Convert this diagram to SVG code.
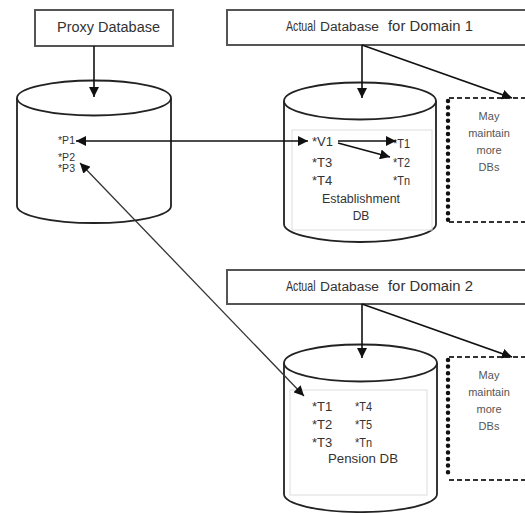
<svg xmlns="http://www.w3.org/2000/svg" width="525" height="513" viewBox="0 0 525 513">
<defs>
<style>
.box{fill:#fff;stroke:#555;stroke-width:2}
.cyl{fill:#fff;stroke:#222;stroke-width:1.8}
.inner{fill:none;stroke:#ddd;stroke-width:1}
.ln{fill:none;stroke:#111;stroke-width:1.6}
.thin{fill:none;stroke:#333;stroke-width:1.3}
.dash{fill:none;stroke:#333;stroke-width:1.8;stroke-dasharray:5 3}
.dots{fill:none;stroke:#111;stroke-width:4.5;stroke-linecap:round;stroke-dasharray:0 6.6}
text{font-family:"Liberation Sans",Arial,sans-serif;fill:#333}
.lbl{font-size:14px}
.db{font-size:12px}
.tb{font-size:13px}
.sm{font-size:11px}
.may{font-size:11px;fill:#555;text-anchor:middle}
</style>
<marker id="ah" viewBox="0 0 10 10" refX="10" refY="5" markerWidth="10" markerHeight="10" markerUnits="userSpaceOnUse" orient="auto-start-reverse">
<path d="M0,0 L10,5 L0,10 z" fill="#111"/>
</marker>
</defs>

<g id="proxy-box">
<rect class="box" x="35" y="10" width="138" height="36"/>
<text class="lbl" x="57" y="32" textLength="103" lengthAdjust="spacingAndGlyphs">Proxy Database</text>
</g>

<g id="domain1-box">
<rect class="box" x="227" y="10" width="310" height="35"/>
<text class="lbl" transform="translate(286,31) scale(0.76,1)">Actual</text>
<text class="db" x="320" y="31" textLength="59" lengthAdjust="spacingAndGlyphs">Database</text>
<text class="lbl" x="388" y="31" textLength="85" lengthAdjust="spacingAndGlyphs">for Domain 1</text>
</g>

<g id="domain2-box">
<rect class="box" x="227" y="270" width="310" height="34"/>
<text class="lbl" transform="translate(286,291) scale(0.76,1)">Actual</text>
<text class="db" x="320" y="291" textLength="59" lengthAdjust="spacingAndGlyphs">Database</text>
<text class="lbl" x="388" y="291" textLength="85" lengthAdjust="spacingAndGlyphs">for Domain 2</text>
</g>

<g id="proxy-db">
<path class="cyl" d="M17,98 L17,206 A77,17 0 0 0 171,206 L171,98"/>
<ellipse class="cyl" cx="94" cy="98" rx="77" ry="17.5"/>
<text class="sm" x="58" y="144" textLength="17" lengthAdjust="spacingAndGlyphs">*P1</text>
<text class="sm" x="58" y="161" textLength="17" lengthAdjust="spacingAndGlyphs">*P2</text>
<text class="sm" x="58" y="172" textLength="17" lengthAdjust="spacingAndGlyphs">*P3</text>
</g>

<g id="establishment-db">
<path class="cyl" d="M284,101 L284,224 A76,18 0 0 0 436,224 L436,101"/>
<ellipse class="cyl" cx="360" cy="101" rx="76" ry="18.5"/>
<rect class="inner" x="292" y="130" width="140" height="100"/>
<text class="tb" x="312" y="146">*V1</text>
<text class="tb" x="312" y="167">*T3</text>
<text class="tb" x="312" y="185">*T4</text>
<text class="tb" x="393" y="148" textLength="17" lengthAdjust="spacingAndGlyphs">*T1</text>
<text class="tb" x="393" y="167" textLength="17" lengthAdjust="spacingAndGlyphs">*T2</text>
<text class="tb" x="393" y="185" textLength="17" lengthAdjust="spacingAndGlyphs">*Tn</text>
<text x="322" y="203" font-size="12" textLength="78" lengthAdjust="spacingAndGlyphs">Establishment</text>
<text x="361" y="220" font-size="12" text-anchor="middle">DB</text>
</g>

<g id="pension-db">
<path class="cyl" d="M284,363 L284,494 A76,18 0 0 0 437,494 L437,363"/>
<ellipse class="cyl" cx="360.5" cy="363" rx="76.5" ry="18.5"/>
<rect class="inner" x="290" y="390" width="137" height="105"/>
<text class="tb" x="312" y="411">*T1</text>
<text class="tb" x="312" y="429">*T2</text>
<text class="tb" x="312" y="447">*T3</text>
<text class="tb" x="355" y="411" textLength="17" lengthAdjust="spacingAndGlyphs">*T4</text>
<text class="tb" x="355" y="429" textLength="17" lengthAdjust="spacingAndGlyphs">*T5</text>
<text class="tb" x="355" y="447" textLength="17" lengthAdjust="spacingAndGlyphs">*Tn</text>
<text x="328" y="463" font-size="13" textLength="70" lengthAdjust="spacingAndGlyphs">Pension DB</text>
</g>

<g id="more-dbs-1">
<line class="dash" x1="449" y1="98" x2="525" y2="98"/>
<line class="dash" x1="449" y1="222" x2="525" y2="222"/>
<line class="dots" x1="448" y1="101" x2="448" y2="220"/>
<text class="may" x="489" y="120">May</text>
<text class="may" x="489" y="137">maintain</text>
<text class="may" x="489" y="154">more</text>
<text class="may" x="489" y="171">DBs</text>
</g>

<g id="more-dbs-2">
<line class="dash" x1="449" y1="357" x2="525" y2="357"/>
<line class="dash" x1="449" y1="480" x2="525" y2="480"/>
<line class="dots" x1="448" y1="360" x2="448" y2="478"/>
<text class="may" x="489" y="379">May</text>
<text class="may" x="489" y="396">maintain</text>
<text class="may" x="489" y="413">more</text>
<text class="may" x="489" y="430">DBs</text>
</g>

<g id="connectors">
<line class="ln" x1="94" y1="46" x2="94" y2="97" marker-end="url(#ah)"/>
<line class="ln" x1="362" y1="45" x2="362" y2="98" marker-end="url(#ah)"/>
<line class="ln" x1="362" y1="45" x2="512" y2="98" marker-end="url(#ah)"/>
<line class="ln" x1="362" y1="304" x2="362" y2="358" marker-end="url(#ah)"/>
<line class="ln" x1="362" y1="304" x2="512" y2="357" marker-end="url(#ah)"/>
<line class="ln" x1="76" y1="141" x2="308" y2="141" marker-start="url(#ah)" marker-end="url(#ah)"/>
<line class="thin" x1="80" y1="163" x2="304" y2="396" marker-start="url(#ah)" marker-end="url(#ah)"/>
<line class="ln" x1="338" y1="141" x2="396" y2="141" marker-end="url(#ah)"/>
<line class="ln" x1="338" y1="143" x2="390" y2="157" marker-end="url(#ah)"/>
</g>
</svg>
